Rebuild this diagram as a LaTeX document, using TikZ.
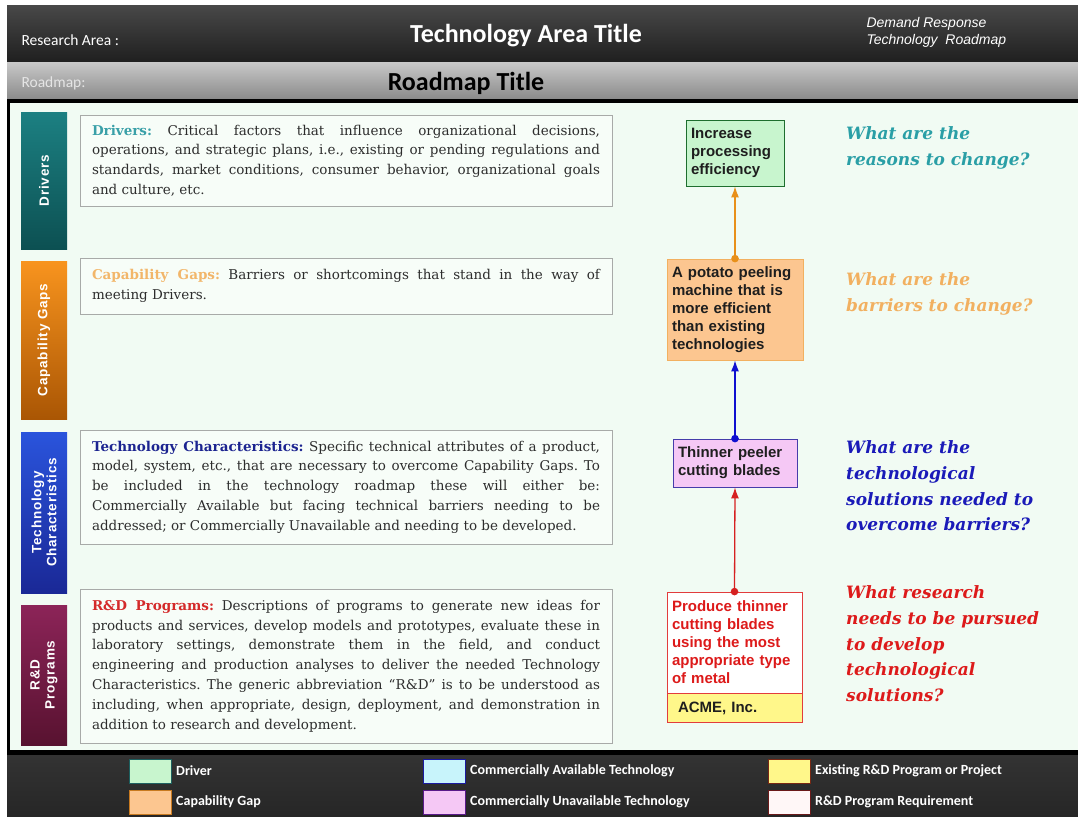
\documentclass[tikz,border=0pt]{standalone}
\usepackage{fontspec}
\setmainfont{DejaVu Serif}
\newfontfamily\headfont{Carlito}
\newfontfamily\boxfont{Liberation Sans}
\usetikzlibrary{shapes,arrows.meta,positioning,calc}
\frenchspacing
\definecolor{panelbg}{RGB}{241,251,243}
\definecolor{boxgrey}{RGB}{168,170,168}
\definecolor{bodytext}{RGB}{45,45,45}
\definecolor{nodetext}{RGB}{30,30,30}
\definecolor{drvteal}{RGB}{42,159,166}
\definecolor{gaporange}{RGB}{242,176,96}
\definecolor{techblue}{RGB}{26,26,184}
\definecolor{rdred}{RGB}{221,26,26}
\definecolor{drvhead}{RGB}{58,160,168}
\definecolor{gaphead}{RGB}{242,182,106}
\definecolor{techhead}{RGB}{28,36,144}
\definecolor{rdhead}{RGB}{212,42,42}
\definecolor{drvfill}{RGB}{200,245,206}
\definecolor{gapfill}{RGB}{252,198,144}
\definecolor{availfill}{RGB}{200,244,251}
\definecolor{unavailfill}{RGB}{245,200,245}
\definecolor{progfill}{RGB}{255,247,138}
\definecolor{arrorange}{RGB}{232,144,26}
\definecolor{arrblue}{RGB}{16,16,208}
\definecolor{arrred}{RGB}{214,32,32}

\begin{document}
\begin{tikzpicture}[x=1pt,y=-1pt,
  descbox/.style={draw=boxgrey,fill=panelbg!60!white,text width=508pt,inner xsep=12pt,inner ysep=0pt,
    align=justify,text=bodytext,font=\frenchspacing\fontsize{13.5}{19.8}\selectfont},
  barbox/.style={minimum width=46pt,inner sep=0pt},
  barlabel/.style={rotate=90,text=white,align=center,
    font=\boxfont\bfseries\addfontfeature{LetterSpace=6}\fontsize{13.5}{15}\selectfont},
  stepnode/.style={draw,line width=0.8pt,align=left,inner xsep=5pt,inner ysep=0pt,text=nodetext,
    font=\boxfont\bfseries\fontsize{15}{18}\selectfont},
  question/.style={anchor=north west,inner sep=0pt,align=left,font=\bfseries\itshape\fontsize{17}{25.7}\selectfont},
  legbox/.style={draw,line width=1pt,minimum width=42pt,minimum height=24pt,inner sep=0pt},
  legtext/.style={anchor=west,inner sep=0pt,text=white,font=\headfont\bfseries\fontsize{14}{16}\selectfont},
  link/.style={line width=1.3pt,-{Latex[length=11pt,width=8pt]}}
]
  \useasboundingbox (0,0) rectangle (1078,816);

  % Frame and bands
  \fill[black] (7,6) rectangle (1078,816);
  \shade[top color=black!72,bottom color=black!88] (7,6) rectangle (1078,63);
  \shade[top color=black!22,bottom color=black!45] (7,63) rectangle (1078,98);
  \fill[panelbg] (10,103) rectangle (1078,750);
  \shade[top color=black!80,bottom color=black!85] (7,755) rectangle (1078,816);

  % Header texts
  \node[anchor=west,text=white,font=\headfont\fontsize{15.5}{18}\selectfont] (areatag) at (18,40) {Research Area :};
  \node[text=white,font=\headfont\bfseries\fontsize{26}{30}\selectfont] (areatitle) at (526,36) {Technology Area Title};
  \node[anchor=west,align=left,text=white,font=\boxfont\itshape\fontsize{14}{17}\selectfont] (drtag) at (863,32) {Demand Response\\Technology~ Roadmap};
  \node[anchor=west,text=black!10,font=\headfont\fontsize{15.5}{18}\selectfont] (maptag) at (18,83) {Roadmap:};
  \node[text=black,font=\headfont\bfseries\fontsize{26}{30}\selectfont] (maptitle) at (466,83) {Roadmap Title};

  % Left bars
  \node[barbox,top color={rgb,255:red,28;green,128;blue,130},bottom color={rgb,255:red,12;green,80;blue,82},minimum height=137pt] (drvbar) at (44,180.5) {};
  \node[barbox,top color={rgb,255:red,248;green,148;blue,30},bottom color={rgb,255:red,170;green,86;blue,4},minimum height=158pt] (gapbar) at (44,340) {};
  \node[barbox,top color={rgb,255:red,42;green,84;blue,220},bottom color={rgb,255:red,26;green,40;blue,150},minimum height=161pt] (techbar) at (44,512.5) {};
  \node[barbox,top color={rgb,255:red,140;green,36;blue,88},bottom color={rgb,255:red,88;green,18;blue,48},minimum height=140pt] (rdbar) at (44,675) {};
  \node[barlabel] (drvlabel) at (drvbar.center) {Drivers};
  \node[barlabel] (gaplabel) at (gapbar.center) {Capability Gaps};
  \node[barlabel] (techlabel) at (techbar.center) {Technology\\Characteristics};
  \node[barlabel] (rdlabel) at (rdbar.center) {R\&D\\Programs};

  % Description boxes
  \node[descbox,minimum height=91pt] (drvtext) at (346,160.5) {\textcolor{drvhead}{\textbf{Drivers:}} Critical factors that influence organizational decisions,\linebreak operations, and strategic plans, i.e., existing or pending regulations and\linebreak standards, market conditions, consumer behavior, organizational goals\linebreak and culture, etc.};
  \node[descbox,minimum height=56pt] (gaptext) at (346,286) {\textcolor{gaphead}{\textbf{Capability Gaps:}} Barriers or shortcomings that stand in the way of\linebreak meeting Drivers.};
  \node[descbox,minimum height=114pt] (techtext) at (346,487) {\textcolor{techhead}{\textbf{Technology Characteristics:}} Specific technical attributes of a product,\linebreak model, system, etc., that are necessary to overcome Capability Gaps. To\linebreak be included in the technology roadmap these will either be:\linebreak Commercially Available but facing technical barriers needing to be\linebreak addressed; or Commercially Unavailable and needing to be developed.};
  \node[descbox,minimum height=154pt] (rdtext) at (346,666) {\textcolor{rdhead}{\textbf{R\&D Programs:}} Descriptions of programs to generate new ideas for\linebreak products and services, develop models and prototypes, evaluate these in\linebreak laboratory settings, demonstrate them in the field, and conduct\linebreak engineering and production analyses to deliver the needed Technology\linebreak Characteristics. The generic abbreviation “R\&D” is to be understood as\linebreak including, when appropriate, design, deployment, and demonstration in\linebreak addition to research and development.};

  % Roadmap chain
  \node[stepnode,draw={rgb,255:red,30;green,110;blue,46},fill=drvfill,text width=88pt,minimum height=66pt] (incr) at (735,153) {Increase\\processing\\efficiency};
  \node[stepnode,draw=gaporange,fill=gapfill,text width=126pt,minimum height=101pt] (peeler) at (735,309.5) {A potato peeling\\machine that is\\more efficient\\than existing\\technologies};
  \node[stepnode,draw={rgb,255:red,70;green,60;blue,170},fill=unavailfill,text width=114pt,minimum height=48pt] (blades) at (735,463) {Thinner peeler\\cutting blades};
  \node[stepnode,draw=rdred!85,fill=white,text=rdred,text width=125pt,minimum height=101pt] (prodreq) at (734.5,642.5) {Produce thinner\\cutting blades\\using the most\\appropriate type\\of metal};
  \node[stepnode,draw=rdred!85,fill=progfill,inner xsep=11pt,text width=113pt,minimum height=29pt,below=0pt of prodreq] (acme) {ACME, Inc.};

  \draw[link,arrorange] (peeler.north) -- (incr.south);
  \draw[link,arrblue] (blades.north) -- (peeler.south);
  \draw[link,arrred] (prodreq.north) -- (blades.south);
  \fill[arrorange] (peeler.north) circle (3.8pt);
  \fill[arrblue] (blades.north) circle (3.8pt);
  \fill[arrred] (prodreq.north) circle (3.8pt);

  % Questions
  \node[question,text=drvteal] (qdrv) at (846,126.5) {What are the\\reasons to change?};
  \node[question,text=gaporange] (qgap) at (846,272.5) {What are the\\barriers to change?};
  \node[question,text=techblue] (qtech) at (846,440.5) {What are the\\technological\\solutions needed to\\overcome barriers?};
  \node[question,text=rdred] (qrd) at (846,585.5) {What research\\needs to be pursued\\to develop\\technological\\solutions?};

  % Legend
  \node[legbox,draw={rgb,255:red,29;green,95;blue,95},fill=drvfill] (legdrv) at (150,771) {};
  \node[legbox,draw={rgb,255:red,200;green,122;blue,32},fill=gapfill] (leggap) at (150,802) {};
  \node[legbox,draw={rgb,255:red,26;green,26;blue,160},fill=availfill] (legavail) at (444,771) {};
  \node[legbox,draw={rgb,255:red,90;green,26;blue,138},fill=unavailfill] (legunavail) at (444,802) {};
  \node[legbox,draw={rgb,255:red,120;green,40;blue,20},fill=progfill] (legprog) at (789,771) {};
  \node[legbox,draw={rgb,255:red,106;green,26;blue,26},fill=white!97!red] (legreq) at (789,802) {};
  \node[legtext] (txtdrv) at (176,771) {Driver};
  \node[legtext] (txtgap) at (176,802) {Capability Gap};
  \node[legtext] (txtavail) at (470,771) {Commercially Available Technology};
  \node[legtext] (txtunavail) at (470,802) {Commercially Unavailable Technology};
  \node[legtext] (txtprog) at (815,771) {Existing R\&D Program or Project};
  \node[legtext] (txtreq) at (815,802) {R\&D Program Requirement};
\end{tikzpicture}
\end{document}
